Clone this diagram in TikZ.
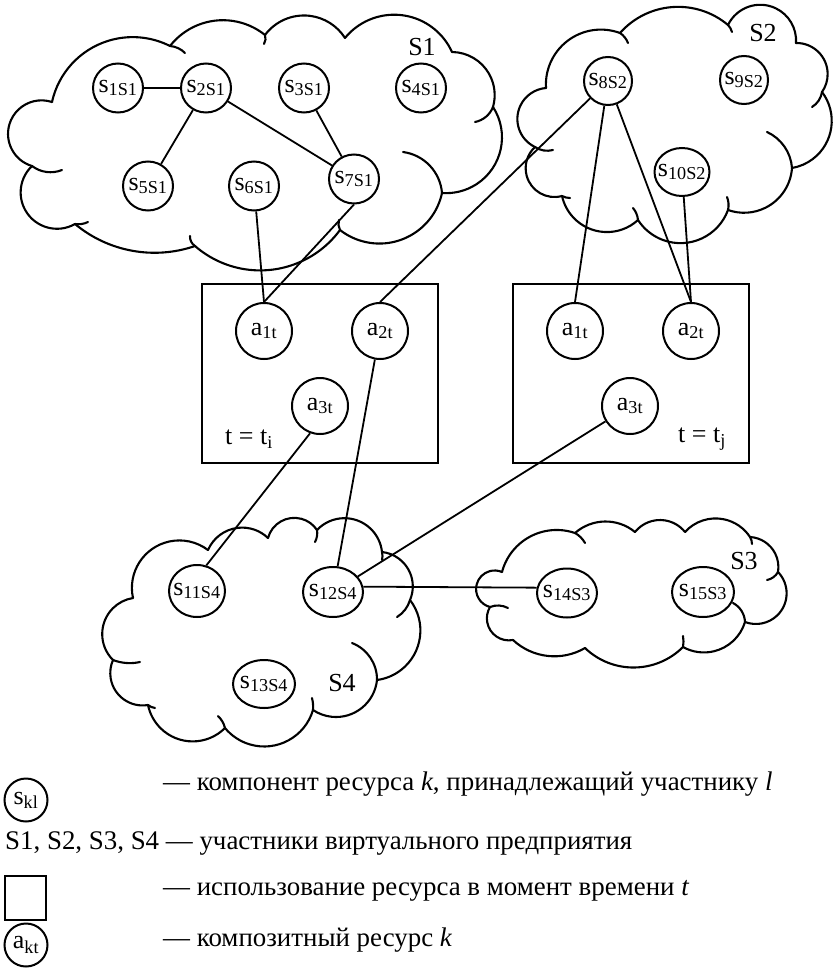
\documentclass[tikz,border=0pt]{standalone}
\usepackage{fontspec}
\setmainfont{Liberation Serif}
\usetikzlibrary{shapes.geometric}

% circular arc from (#1,#2) to (#3,#4), bulging outward by sagitta #5
% (points listed clockwise on the page, y axis pointing down)
\newcommand\lobearc[5]{%
  \pgfmathsetmacro\lbdx{(#3)-(#1)}%
  \pgfmathsetmacro\lbdy{(#4)-(#2)}%
  \pgfmathsetmacro\lbc{veclen(\lbdx,\lbdy)}%
  \pgfmathsetmacro\lbt{2*atan(2*(#5)/\lbc)}%
  \pgfmathsetmacro\lbr{\lbc/(2*sin(\lbt))}%
  \pgfmathsetmacro\lbh{\lbr*cos(\lbt)}%
  \pgfmathsetmacro\lbcx{((#1)+(#3))/2-\lbh*\lbdy/\lbc}%
  \pgfmathsetmacro\lbcy{((#2)+(#4))/2+\lbh*\lbdx/\lbc}%
  \pgfmathsetmacro\lbsa{atan2((#2)-(\lbcy),(#1)-(\lbcx))}%
  \pgfmathsetmacro\lbea{\lbsa+2*\lbt}%
}

% cloud: #1 outline arcs, #2 first point, #3 inner crease arcs
\newcommand\cloudfig[3]{%
  \fill[white] (#2) \foreach \xa/\ya/\xb/\yb/\sg in {#1}{ -- (\xb,\yb) } -- cycle;
  \foreach \xa/\ya/\xb/\yb/\sg in {#1}{%
    \lobearc{\xa}{\ya}{\xb}{\yb}{\sg}%
    \fill[white] (\xa,\ya) arc[start angle=\lbsa, end angle=\lbea, radius=\lbr] -- cycle;
  }
  \foreach \xa/\ya/\xb/\yb/\sg in {#1,#3}{%
    \lobearc{\xa}{\ya}{\xb}{\yb}{\sg}%
    \draw[cloudline] (\xa,\ya) arc[start angle=\lbsa, end angle=\lbea, radius=\lbr];
  }
}

\newcommand\nm[2]{\makebox[0pt]{#1\textsubscript{#2}}}

\tikzset{
  cloudline/.style={line width=2.1pt, line cap=round},
  res/.style={ellipse, draw, fill=white, line width=2pt, inner sep=0pt,
    minimum height=49pt, minimum width=#1},
  res/.default=50pt,
  comp/.style={ellipse, draw, fill=white, line width=2pt, inner sep=0pt,
    minimum width=56pt, minimum height=56pt},
  frame/.style={draw, line width=2.4pt},
  link/.style={line width=1.8pt},
  lbl/.style={inner sep=0pt},
  lgd/.style={inner sep=0pt, anchor=west, font=\fontsize{26.9}{30}\selectfont},
}

\begin{document}
\begin{tikzpicture}[x=1pt, y=-1pt, font=\fontsize{26}{30}\selectfont]
\useasboundingbox (0,0) rectangle (835,974);

% participant S1
\cloudfig{52/102/170/46/32, 170/46/265/35/20, 265/35/345/38/21, 345/38/452/52/30,
  452/52/493/107/17, 493/107/442/193/31, 442/193/340/230/30, 340/230/195/246/32,
  195/246/75/224/16, 75/224/32/166/32, 32/166/52/102/34}{52,102}
 {170/46/185/53/1.5, 265/35/264/44/1, 493/107/475/122/3, 403/152/442/193/10,
  340/230/339/220/1, 195/246/190/236/1.5, 88/222/75/224/1, 62/170/32/166/4}

% participant S2
\cloudfig{546/88/620/33/25, 620/33/728/25/22, 728/25/796/43/29, 796/43/822/92/17,
  822/92/792/168/23, 792/168/728/210/19, 728/210/638/220/28, 638/220/562/196/23,
  562/196/535/147/22, 535/147/546/88/23}{546,88}
 {620/33/628/43/1, 728/25/732/32/0.5, 822/92/812/107/2, 767/132/792/168/6,
  727/197/728/210/1, 633/208/638/220/1, 553/150/535/147/2, 570/198/562/196/0.5}

% participant S4
\cloudfig{133/598/208/550/31, 208/550/268/538/16, 268/538/317/530/16, 317/530/382/552/22,
  382/552/410/600/14, 410/600/377/680/25, 377/680/313/710/20, 313/710/225/728/27,
  225/728/148/705/24, 148/705/113/660/17, 113/660/133/598/20}{133,598}
 {317/530/315/542/1, 382/552/382/560/0.5, 410/600/397/617/2, 352/643/377/680/7,
  312/698/313/710/0.5, 218/716/225/728/1, 155/708/148/705/0.5, 140/662/113/660/2}

% participant S3
\cloudfig{502/572/575/533/18, 575/533/635/532/11, 635/532/685/532/12, 685/532/750/537/16,
  750/537/778/572/10, 778/572/745/622/24, 745/622/683/647/16, 683/647/585/648/20,
  585/648/513/640/12, 513/640/490/607/13, 490/607/502/572/20}{502,572}
 {575/533/585/543/1, 750/537/752/544/0.5, 778/572/767/580/1.5, 733/603/745/622/3,
  683/636/683/647/0.5, 490/607/508/608/2}

% participant labels
\node[lbl] (S1) at (422,47) {S1};
\node[lbl] (S2) at (763,33) {S2};
\node[lbl] (S3) at (744,561) {S3};
\node[lbl] (S4) at (342,683) {S4};

% time frames
\draw[frame] (202,284) rectangle (438,463);
\draw[frame] (513,284) rectangle (749,463);
\node[lbl] (ti) at (249,439) {t = t\textsubscript{i}};
\node[lbl] (tj) at (702,439) {t = t\textsubscript{j}};

% resource components
\node[res] (s1) at (118,88) {\nm{s}{1S1}};
\node[res] (s2) at (206,88) {\nm{s}{2S1}};
\node[res] (s3) at (304,88) {\nm{s}{3S1}};
\node[res] (s4) at (421,88) {\nm{s}{4S1}};
\node[res] (s5) at (148,186) {\nm{s}{5S1}};
\node[res] (s6) at (254,186) {\nm{s}{6S1}};
\node[res] (s7) at (354,179) {\nm{s}{7S1}};
\node[res=48pt, minimum height=48pt] (s8) at (608,81) {\nm{s}{8S2}};
\node[res=48pt, minimum height=48pt] (s9) at (744,80) {\nm{s}{9S2}};
\node[res=55pt, minimum height=48pt] (s10) at (682,172) {\nm{s}{10S2}};
\node[res=56pt, minimum height=52pt] (s11) at (197,591) {\nm{s}{11S4}};
\node[res=60pt, minimum height=50pt] (s12) at (333,592) {\nm{s}{12S4}};
\node[res=62pt, minimum height=48pt] (s13) at (264,684) {\nm{s}{13S4}};
\node[res=60pt, minimum height=49pt] (s14) at (567,593) {\nm{s}{14S3}};
\node[res=62pt, minimum height=50pt] (s15) at (703,592) {\nm{s}{15S3}};

% composite resources
\node[comp] (a1i) at (264,331) {\nm{a}{1t}};
\node[comp] (a2i) at (380,331) {\nm{a}{2t}};
\node[comp] (a3i) at (320,406) {\nm{a}{3t}};
\node[comp] (a1j) at (575,331) {\nm{a}{1t}};
\node[comp] (a2j) at (691,331) {\nm{a}{2t}};
\node[comp] (a3j) at (630,406) {\nm{a}{3t}};

% links
\draw[link] (s1) -- (s2);
\draw[link] (s2) -- (s5);
\draw[link] (s2) -- (s7);
\draw[link] (s3) -- (s7);
\draw[link] (s6) -- (a1i.north);
\draw[link] (s7.south) -- (a1i.north);
\draw[link] (s8) -- (a2i.north);
\draw[link] (s8) -- (a1j.north);
\draw[link] (s8) -- (a2j.north);
\draw[link] (s10) -- (a2j.north);
\draw[link] (a3i.250) -- (s11.70);
\draw[link] (a2i) -- (s12);
\draw[link] (a3j) -- (s12);
\draw[link] (s12.10) -- (s14.170);

% legend
\node[res=43pt, minimum height=43pt] (ks) at (26,800) {\nm{s}{kl}};
\node[lgd] (k1) at (163,784) {— компонент ресурса \textit{k}, принадлежащий участнику \textit{l}};
\node[lgd] (k2) at (5,843) {S1, S2, S3, S4 — участники виртуального предприятия};
\draw[frame] (5,876) rectangle (46,920);
\node[lgd] (k3) at (163,891) {— использование ресурса в момент времени \textit{t}};
\node[res=43pt, minimum height=43pt] (ka) at (26,945) {\nm{a}{kt}};
\node[lgd] (k4) at (163,940) {— композитный ресурс \textit{k}};
\end{tikzpicture}
\end{document}
